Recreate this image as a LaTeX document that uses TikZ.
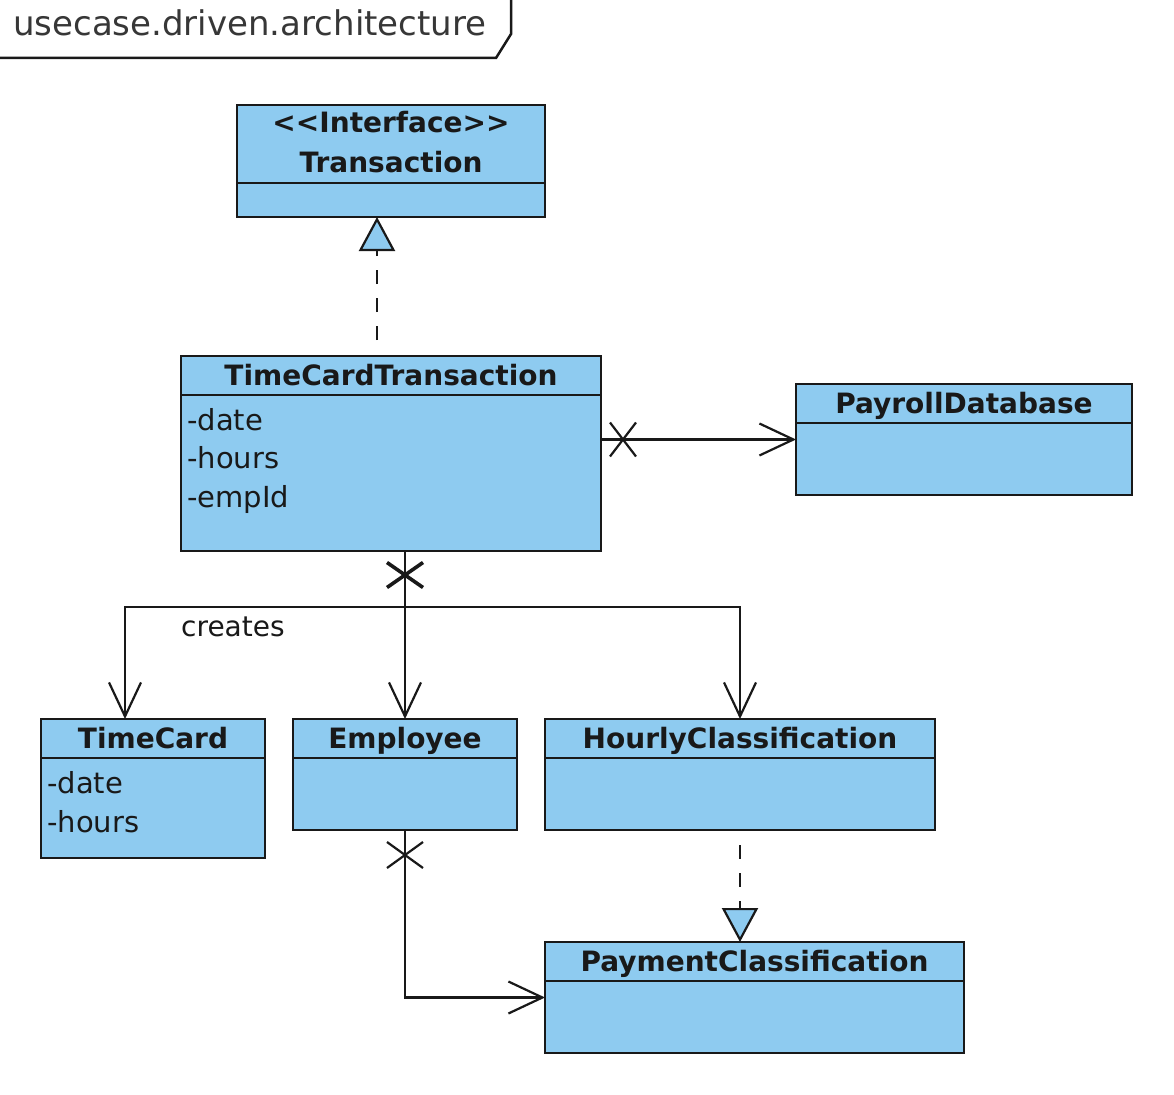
\documentclass[tikz,border=0pt]{standalone}
\usepackage{fontspec}
\setmainfont{DejaVu Sans}
\usetikzlibrary{arrows.meta,calc}
\definecolor{umlblue}{RGB}{142,203,240}
\definecolor{ink}{RGB}{25,25,25}
\definecolor{frametext}{RGB}{55,55,55}
\newcommand\umlclass[6]{%
  \node[cls, minimum width=#4pt, minimum height=#5pt] (#1) at (#2,#3) {};
  \draw[sepline] ([yshift=-#6pt]#1.north west) -- ([yshift=-#6pt]#1.north east);
}
\begin{document}
\begin{tikzpicture}[x=1pt,y=-1pt,
  cls/.style={draw=ink, line width=2.5pt, fill=umlblue, anchor=north west, inner sep=0pt, outer sep=0pt},
  ttl/.style={anchor=base, font=\fontsize{28}{34}\selectfont\bfseries, text=ink, inner sep=0pt},
  att/.style={anchor=base west, font=\fontsize{29}{34}\selectfont, text=ink, inner sep=0pt},
  sepline/.style={draw=ink, line width=2.5pt},
  conn/.style={draw=ink, line width=2.2pt},
  nav/.style={conn, -{Straight Barb[length=34pt,width=32pt]}},
  real/.style={conn, dash pattern=on 14pt off 14pt, -{Triangle[length=34pt,width=36pt,fill=umlblue]}},
  xmark/.style={draw=ink, line width=2.2pt},
  xbold/.style={draw=ink, line width=3.6pt},
]
\useasboundingbox (0,0) rectangle (1174,1094);
\fill[white] (0,0) rectangle (1174,1094);

% frame tab
\draw[ink, line width=2.5pt] (-5,58) -- (496,58) -- (511,34) -- (511,-5);
\node[anchor=base west, font=\fontsize{34}{40}\selectfont, text=frametext, inner sep=0pt] (frm) at (13,36) {usecase.driven.architecture};

% classes
\umlclass{tr}{237}{105}{308}{112}{78}
\umlclass{tct}{181}{356}{420}{195}{39}
\umlclass{pdb}{796}{384}{336}{111}{39}
\umlclass{tc}{41}{719}{224}{139}{39}
\umlclass{emp}{293}{719}{224}{111}{39}
\umlclass{hc}{545}{719}{390}{111}{39}
\umlclass{pc}{545}{942}{419}{111}{39}

% titles
\node[ttl] (trs) at ([yshift=-28pt]tr.north) {<{}<Interface>{}>};
\node[ttl] (trn) at ([yshift=-67pt]tr.north) {Transaction};
\node[ttl] (tctn) at ([yshift=-29pt]tct.north) {TimeCardTransaction};
\node[ttl] (pdbn) at ([yshift=-29pt]pdb.north) {PayrollDatabase};
\node[ttl] (tcn) at ([yshift=-29pt]tc.north) {TimeCard};
\node[ttl] (empn) at ([yshift=-29pt]emp.north) {Employee};
\node[ttl] (hcn) at ([yshift=-29pt]hc.north) {HourlyClassification};
\node[ttl] (pcn) at ([yshift=-29pt]pc.north) {PaymentClassification};

% attributes
\node[att] (a1) at (187,430) {-date};
\node[att] (a2) at (187,468) {-hours};
\node[att] (a3) at (187,507) {-empId};
\node[att] (b1) at (47,793) {-date};
\node[att] (b2) at (47,832) {-hours};

% connectors
\draw[real] ([shift={(-14pt,16pt)}]tct.north) -- ([xshift=-14pt]tr.south);
\draw[nav] (tct.east |- pdb.west) -- (pdb.west);
\coordinate (jn) at (405,607);
\draw[nav] (tct.south -| emp.north) -- (emp.north);
\draw[nav] (jn) -| ([xshift=-28pt]tc.north);
\draw[nav] (jn) -| (hc.north);
\node[anchor=base west, font=\fontsize{28}{34}\selectfont, text=ink, inner sep=0pt] (lbl) at (181,636) {creates};
\draw[nav] (emp.south) |- (pc.west);
\draw[real] ([yshift=-15pt]hc.south) -- (hc.south |- pc.north);

% x marks
\coordinate (x1) at ($(tct.south -| emp.north)+(0,24)$);
\draw[xbold] ($(x1)+(-18,-12.5)$) -- ($(x1)+(18,12.5)$) ($(x1)+(-18,12.5)$) -- ($(x1)+(18,-12.5)$);
\coordinate (x2) at ($(tct.east |- pdb.west)+(22,0)$);
\draw[xmark] ($(x2)+(-13,-17)$) -- ($(x2)+(13,17)$) ($(x2)+(-13,17)$) -- ($(x2)+(13,-17)$);
\coordinate (x3) at ($(emp.south)+(0,25)$);
\draw[xmark] ($(x3)+(-18,-13)$) -- ($(x3)+(18,13)$) ($(x3)+(-18,13)$) -- ($(x3)+(18,-13)$);
\end{tikzpicture}
\end{document}
